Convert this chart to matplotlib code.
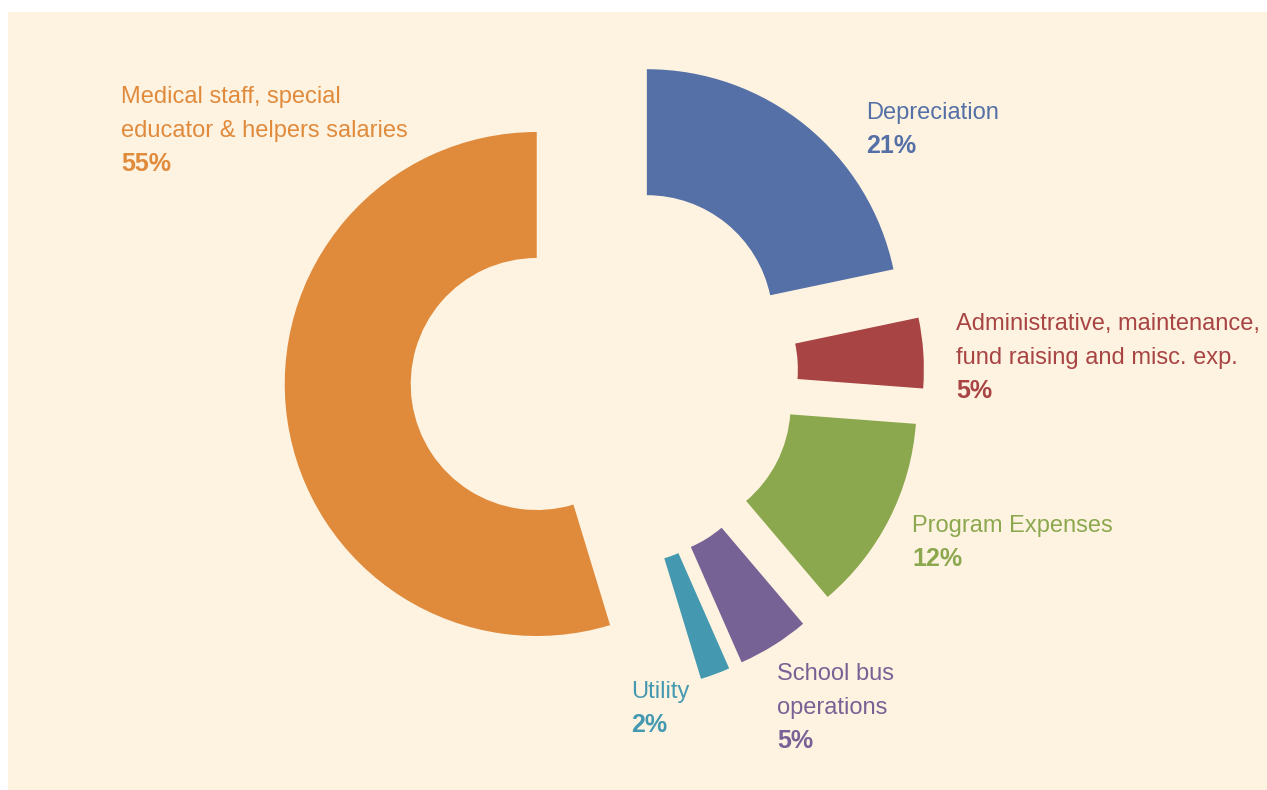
import matplotlib.pyplot as plt
from matplotlib.patches import Rectangle

# expense share, counter-clockwise from 12 o'clock
categories = ['Medical staff, special\neducator & helpers salaries', 'Utility',
              'School bus\noperations', 'Program Expenses',
              'Administrative, maintenance,\nfund raising and misc. exp.', 'Depreciation']
shares = [54.7, 1.9, 4.6, 12.6, 4.5, 21.7]
pct_labels = ['55%', '2%', '5%', '12%', '5%', '21%']

colors = ['#E08A3C', '#4499B0', '#776295', '#8CA84E', '#A84443', '#5470A6']
bg = '#FEF3E1'

W, H = 1267, 790
plt.rcParams['font.family'] = ['Liberation Sans Narrow', 'Liberation Sans', 'DejaVu Sans']

fig = plt.figure(figsize=(W / 100, H / 100), dpi=100)
fig.patches.append(Rectangle((8 / W, 0), 1 - 8 / W, 1 - 12 / H, transform=fig.transFigure,
                             facecolor=bg, edgecolor='none', zorder=-5))
ax = fig.add_axes([0, 0, 1, 1])
ax.patch.set_visible(False)
ax.set_zorder(1)

# pixel layout: pie centre, radius, hole
cx, cy = 604, H - 374
R = 252
ax.pie(shares, colors=colors, startangle=90, counterclock=True, center=(cx, cy),
       radius=R, explode=[68] * len(shares),
       wedgeprops=dict(width=R / 2, linewidth=0))
ax.set_xlim(0, W)
ax.set_ylim(0, H)
ax.set_aspect('auto')
ax.axis('off')

# first-line baseline of each label, pixels from top-left
label_pos = [(121, 103), (631, 698), (777, 680), (912, 532), (956, 330), (866, 119)]
line_h = 34
for name, pct, col, (px, py) in zip(categories, pct_labels, colors, label_pos):
    lines = name.split('\n')
    for i, line in enumerate(lines):
        ax.text(px, H - (py + i * line_h), line, color=col, fontsize=17,
                va='baseline', ha='left')
    ax.text(px, H - (py + len(lines) * line_h), pct, color=col, fontsize=18,
            fontweight='bold', va='baseline', ha='left')

fig.savefig('out.png', dpi=100, facecolor='white')
